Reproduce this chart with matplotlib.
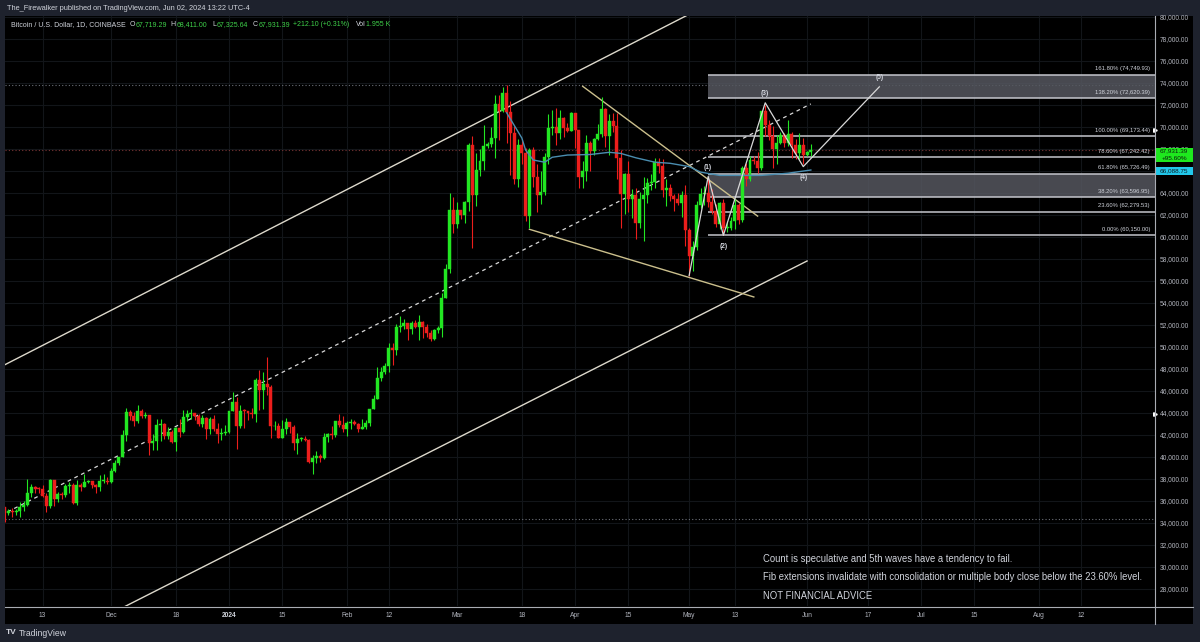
import matplotlib
matplotlib.use('Agg')
import matplotlib.pyplot as plt
import matplotlib.dates as mdates
import matplotlib.transforms as mtransforms
from matplotlib.patches import Rectangle
from matplotlib.lines import Line2D
import numpy as np
import pandas as pd

plt.rcParams['font.family'] = ['Liberation Sans', 'DejaVu Sans']

# ---- daily candles, BTC/USD Coinbase, prices in thousand USD ----
dates = pd.date_range('2023-11-03', '2024-06-02', freq='D')

opens = [
    # Nov
    35.42, 34.94, 35.08, 35.04, 35.05, 35.43, 35.63, 36.70, 37.31, 37.13, 37.07, 36.50, 35.55, 37.88,
    36.18, 36.60, 36.58, 37.38, 37.45, 35.80, 37.42, 37.29, 37.72, 37.79, 37.46, 37.25, 37.83, 37.85,
    # Dec
    37.72, 38.69, 39.46, 39.97, 41.99, 44.08, 43.77, 43.29, 44.17, 43.73, 43.79, 41.24, 41.49, 42.89, 43.04, 41.94,
    42.26, 41.37, 42.66, 42.27, 43.66, 43.87, 43.99, 43.73, 43.01, 43.59, 42.52, 43.44, 42.59, 42.07, 42.14,
    # Jan
    42.28, 44.18, 44.96, 42.84, 44.18, 44.16, 43.97, 43.94, 46.96, 46.12, 46.65, 46.34, 42.78, 42.85, 41.74, 42.51,
    43.14, 42.74, 41.27, 41.62, 41.67, 41.56, 39.53, 39.89, 40.09, 39.95, 41.82, 42.12, 42.03, 43.30, 42.94,
    # Feb
    42.57, 43.09, 43.19, 43.00, 42.58, 42.70, 43.09, 44.34, 45.29, 47.14, 47.77, 48.30, 49.95, 49.72, 51.82,
    51.94, 52.15, 51.68, 52.14, 51.78, 52.28, 51.85, 51.31, 50.74, 51.57, 51.73, 54.49, 57.06, 62.50,
    # Mar
    61.17, 62.43, 62.03, 63.15, 68.32, 63.80, 66.10, 66.92, 68.30, 68.50, 69.00, 72.10, 71.46, 73.08, 71.40, 69.46,
    65.30, 68.40, 67.61, 61.94, 67.89, 65.49, 63.78, 64.05, 67.23, 69.95, 69.99, 69.46, 70.78, 69.89, 69.65,
    # Apr
    71.29, 69.70, 65.46, 65.97, 68.51, 67.84, 68.90, 69.36, 71.62, 69.14, 70.59, 70.06, 67.15, 63.92, 65.73,
    63.44, 63.79, 61.28, 63.47, 63.82, 64.94, 64.96, 66.84, 66.41, 64.28, 64.50, 63.77, 63.46, 63.12, 63.86,
    # May
    60.61, 58.30, 59.10, 62.90, 63.89, 64.03, 63.16, 62.33, 61.19, 63.07, 60.79, 60.82, 61.48, 62.93, 61.56, 66.27,
    65.24, 67.03, 66.93, 66.27, 71.45, 70.14, 69.14, 67.96, 68.53, 69.28, 68.51, 69.39, 68.33, 67.60, 68.35,
    # Jun
    67.49, 67.719,
]
highs = [
    35.42, 35.25, 35.38, 35.30, 35.90, 35.98, 37.97, 37.53, 37.40, 37.23, 37.43, 36.77, 37.98, 37.94,
    36.85, 36.84, 37.52, 37.77, 37.66, 37.88, 37.66, 38.42, 37.90, 37.83, 37.59, 38.40, 38.42, 38.17,
    38.98, 39.70, 40.00, 42.42, 44.49, 44.29, 44.05, 44.71, 44.37, 44.05, 43.82, 42.10, 43.43, 43.42, 43.09, 42.72,
    42.43, 42.75, 43.48, 44.29, 44.23, 44.39, 44.03, 43.94, 43.80, 43.60, 43.68, 43.80, 43.13, 42.60, 42.90,
    44.19, 45.90, 45.50, 44.73, 44.35, 44.22, 44.50, 47.22, 47.89, 47.69, 49.05, 46.52, 43.24, 43.07, 43.38, 43.58,
    43.20, 42.94, 42.19, 41.84, 41.88, 41.64, 40.14, 40.55, 40.28, 42.21, 42.19, 42.84, 43.31, 43.88, 43.74,
    43.27, 43.48, 43.38, 43.12, 43.50, 43.40, 44.37, 45.60, 48.20, 48.17, 48.57, 50.33, 50.37, 52.08, 52.82,
    52.58, 52.18, 52.35, 52.48, 52.95, 52.38, 52.06, 51.57, 51.68, 51.95, 54.90, 57.59, 63.97, 63.68,
    63.15, 62.43, 63.25, 68.59, 69.21, 67.64, 67.99, 70.17, 68.60, 69.99, 72.88, 72.90, 73.65, 73.84, 72.37, 70.05,
    68.87, 68.95, 68.10, 68.10, 68.20, 66.65, 65.98, 67.62, 71.16, 71.54, 71.75, 71.56, 70.90, 70.33, 71.37,
    71.29, 69.70, 66.90, 69.30, 68.72, 69.00, 70.30, 72.75, 71.75, 71.17, 71.30, 71.23, 67.93, 65.84, 66.90,
    64.36, 64.50, 64.10, 65.45, 65.40, 65.70, 67.20, 67.20, 67.08, 65.30, 64.80, 63.90, 64.00, 64.20, 64.70,
    60.85, 59.60, 63.30, 64.50, 64.60, 65.50, 64.40, 62.99, 63.20, 63.46, 61.45, 61.80, 63.45, 63.10, 66.45, 66.70,
    67.40, 67.40, 67.70, 71.50, 71.98, 70.65, 70.10, 69.25, 69.58, 69.50, 70.65, 69.55, 68.90, 69.50, 69.00,
    67.85, 68.411,
]
lows = [
    34.10, 34.73, 34.54, 34.75, 34.52, 35.11, 35.54, 36.33, 36.76, 36.71, 36.35, 34.96, 35.38, 35.56,
    35.89, 36.21, 36.40, 36.70, 35.76, 35.62, 36.90, 37.26, 37.61, 37.16, 36.74, 36.87, 37.61, 37.51,
    37.60, 38.65, 39.30, 39.97, 41.43, 43.36, 42.83, 43.09, 43.58, 43.59, 40.19, 40.66, 40.60, 41.45, 41.66, 41.68,
    41.27, 40.53, 41.83, 42.22, 43.28, 43.42, 43.32, 42.79, 42.73, 41.66, 42.11, 42.33, 41.30, 41.52, 41.98,
    42.19, 44.18, 40.75, 42.64, 42.63, 43.40, 43.57, 43.20, 44.30, 44.33, 45.60, 41.75, 42.44, 41.73, 41.73, 42.08,
    42.20, 40.66, 40.28, 41.44, 41.48, 39.44, 38.50, 39.48, 39.52, 39.83, 41.40, 41.64, 41.82, 42.70, 42.28,
    41.88, 42.59, 42.88, 42.26, 42.53, 42.58, 42.78, 44.33, 45.26, 46.88, 47.57, 47.73, 48.35, 49.28, 51.32,
    51.61, 50.65, 51.21, 51.70, 50.64, 50.81, 50.90, 50.55, 50.61, 51.29, 50.90, 54.45, 56.70, 60.36,
    60.80, 61.60, 61.30, 62.35, 59.01, 62.80, 65.58, 66.12, 68.07, 68.21, 67.14, 68.80, 71.36, 68.56, 65.60, 64.80,
    64.53, 66.60, 61.50, 60.80, 64.57, 62.30, 63.02, 63.80, 66.60, 69.23, 68.40, 68.90, 69.09, 69.55, 69.60,
    68.10, 64.50, 64.50, 65.10, 66.00, 67.45, 68.80, 69.05, 68.21, 67.50, 69.56, 65.25, 60.80, 62.10, 62.30,
    61.70, 59.80, 60.80, 59.60, 63.10, 64.25, 64.50, 65.80, 63.60, 62.80, 63.30, 62.40, 62.90, 61.80, 59.20,
    56.50, 56.90, 58.80, 62.60, 62.90, 62.70, 62.10, 60.90, 60.70, 60.15, 60.50, 60.63, 60.75, 61.15, 61.33, 64.60,
    65.10, 66.65, 65.85, 66.10, 69.20, 68.85, 66.30, 66.60, 68.50, 68.20, 68.25, 67.20, 67.10, 67.10, 66.65,
    67.40, 67.326,
]
closes = [
    34.94, 35.08, 35.04, 35.05, 35.43, 35.63, 36.70, 37.31, 37.13, 37.07, 36.50, 35.55, 37.88, 36.18,
    36.60, 36.58, 37.38, 37.45, 35.80, 37.42, 37.29, 37.72, 37.79, 37.46, 37.25, 37.83, 37.85, 37.72,
    38.69, 39.46, 39.97, 41.99, 44.08, 43.77, 43.29, 44.17, 43.73, 43.79, 41.24, 41.49, 42.89, 43.04, 41.94, 42.26,
    41.37, 42.66, 42.27, 43.66, 43.87, 43.99, 43.73, 43.01, 43.59, 42.52, 43.44, 42.59, 42.07, 42.14, 42.28,
    44.18, 44.96, 42.84, 44.18, 44.16, 43.97, 43.94, 46.96, 46.12, 46.65, 46.34, 42.78, 42.85, 41.74, 42.51, 43.14,
    42.74, 41.27, 41.62, 41.67, 41.56, 39.53, 39.89, 40.09, 39.95, 41.82, 42.12, 42.03, 43.30, 42.94, 42.57,
    43.09, 43.19, 43.00, 42.58, 42.70, 43.09, 44.34, 45.29, 47.14, 47.77, 48.30, 49.95, 49.72, 51.82, 51.94,
    52.15, 51.68, 52.14, 51.78, 52.28, 51.85, 51.31, 50.74, 51.57, 51.73, 54.49, 57.06, 62.50, 61.17,
    62.43, 62.03, 63.15, 68.32, 63.80, 66.10, 66.92, 68.30, 68.50, 69.00, 72.10, 71.46, 73.08, 71.40, 69.46, 65.30,
    68.40, 67.61, 61.94, 67.89, 65.49, 63.78, 64.05, 67.23, 69.95, 69.99, 69.46, 70.78, 69.89, 69.65, 71.29,
    69.70, 65.46, 65.97, 68.51, 67.84, 68.90, 69.36, 71.62, 69.14, 70.59, 70.06, 67.15, 63.92, 65.73, 63.44,
    63.79, 61.28, 63.47, 63.82, 64.94, 64.96, 66.84, 66.41, 64.28, 64.50, 63.77, 63.46, 63.12, 63.86, 60.61,
    58.30, 59.10, 62.90, 63.89, 64.03, 63.16, 62.33, 61.19, 63.07, 60.79, 60.82, 61.48, 62.93, 61.56, 66.27, 65.24,
    67.03, 66.93, 66.27, 71.45, 70.14, 69.14, 67.96, 68.53, 69.28, 68.51, 69.39, 68.33, 67.60, 68.35, 67.49,
    67.72, 67.931,
]

# anchored average line
ma_dates = ['2024-03-14', '2024-03-18', '2024-03-19', '2024-03-21', '2024-03-24', '2024-03-26', '2024-03-30',
            '2024-04-05', '2024-04-10', '2024-04-13', '2024-04-17', '2024-04-22', '2024-04-26', '2024-05-01',
            '2024-05-04', '2024-05-09', '2024-05-15', '2024-05-20', '2024-05-27', '2024-06-02']
ma_vals = [71.3, 69.0, 67.9, 67.0, 66.8, 67.25, 67.45, 67.5, 67.7, 67.6, 67.2, 66.8, 66.7, 66.4,
           65.9, 65.6, 65.6, 65.6, 65.8, 66.09]

# drawings
chan_upper_dates = ['2023-11-02', '2024-05-01']
chan_upper_vals = [48.2, 80.25]
chan_mid_dates = ['2023-11-02', '2024-06-02']
chan_mid_vals = [34.7, 72.1]
chan_lower_dates = ['2023-12-04', '2024-06-01']
chan_lower_vals = [26.3, 57.82]
wedge_top_dates = ['2024-04-03', '2024-05-19']
wedge_top_vals = [73.7, 61.9]
wedge_bot_dates = ['2024-03-20', '2024-05-18']
wedge_bot_vals = [60.7, 54.55]

wave_dates = ['2024-05-01', '2024-05-06', '2024-05-10', '2024-05-21', '2024-05-31', '2024-06-20']
wave_vals = [56.5, 65.5, 60.15, 72.2, 66.4, 73.65]
wave_labels = ['', '(1)', '(2)', '(3)', '(4)', '(5)']
wave_label_side = [0, 1, -1, 1, -1, 1]

fib_start = '2024-05-06'
fib_pcts = [161.8, 138.2, 100.0, 78.6, 61.8, 38.2, 23.6, 0.0]
fib_values = [74749.93, 72620.39, 69173.44, 67242.42, 65726.49, 63596.95, 62279.53, 60150.00]

last_price = 67931.39
ma_last = 66088.75
ath_level = 73.835
low_level = 34.36

xtick_dates = ['2023-11-13', '2023-12-01', '2023-12-18', '2024-01-01', '2024-01-15', '2024-02-01', '2024-02-12',
               '2024-03-01', '2024-03-18', '2024-04-01', '2024-04-15', '2024-05-01', '2024-05-13', '2024-06-01',
               '2024-06-17', '2024-07-01', '2024-07-15', '2024-08-01', '2024-08-12']
xtick_labels = ['13', 'Dec', '18', '2024', '15', 'Feb', '12', 'Mar', '18', 'Apr', '15', 'May', '13', 'Jun',
                '17', 'Jul', '15', 'Aug', '12']

GREEN = '#22e622'
RED = '#ec1e1c'
FRAME = '#1e222d'
TXT = '#d1d4dc'
AXT = '#b2b5be'
LGREEN = '#3fd04a'

assert len(opens) == len(highs) == len(lows) == len(closes) == len(dates)

W, H = 1200, 642
def px(x):
    return x / W
def py(y):
    return 1 - y / H

def dn(lst):
    return mdates.date2num(pd.to_datetime(lst).to_pydatetime())

fig = plt.figure(figsize=(12, 6.42), dpi=100, facecolor=FRAME)
fig.patches.append(Rectangle((px(5), py(624)), px(1188), 608 / H, transform=fig.transFigure,
                             facecolor='black', edgecolor='none', zorder=-10))

ax = fig.add_axes([px(5), py(606), px(1150), 590 / H])
ax.set_facecolor('black')
for s in ax.spines.values():
    s.set_visible(False)

jan1 = mdates.date2num(pd.Timestamp('2024-01-01').to_pydatetime())
ax.set_xlim(jan1 + (5 - 229) / 3.803, jan1 + (1155 - 229) / 3.803)
ax.set_ylim(80 - 589 / 11, 80 + 1 / 11)

# grid / ticks
yt = np.arange(28, 81, 2)
ax.set_yticks(yt)
ax.set_yticklabels([f'{v * 1000:,.2f}' for v in yt])
ax.yaxis.tick_right()
ax.set_xticks(dn(xtick_dates))
ax.set_xticklabels(xtick_labels)
ax.tick_params(axis='y', length=0, pad=3.6, labelsize=4.8, labelcolor=AXT)
ax.tick_params(axis='x', length=0, pad=4.2, labelsize=4.8, labelcolor=AXT)
for lab in ax.get_xticklabels():
    if lab.get_text() == '2024':
        lab.set_fontweight('bold')
        lab.set_color(TXT)
ax.grid(color='#121519', linewidth=0.8, zorder=0)
ax.set_axisbelow(True)

# dotted level lines
ax.axhline(ath_level, color='#6d7079', lw=0.8, ls=(0, (1, 2)), zorder=1)
ax.axhline(low_level, color='#6d7079', lw=0.8, ls=(0, (1, 2)), zorder=1)
ax.axhline(last_price / 1000, color='#7a3434', lw=0.8, ls=(0, (1, 2)), zorder=1)

# fib extension
xf0 = dn([fib_start])[0]
xr = ax.get_xlim()[1]
fv = np.array(fib_values) / 1000
ax.fill_between([xf0, xr], fv[1], fv[0], color='#55575f', alpha=0.85, lw=0, zorder=2)
ax.fill_between([xf0, xr], fv[5], fv[4], color='#55575f', alpha=0.85, lw=0, zorder=2)
ax.hlines(fv, xf0, xr, colors='#c4c6cc', lw=1.1, zorder=3)
bt = mtransforms.blended_transform_factory(ax.transAxes, ax.transData)
for p, v in zip(fib_pcts, fib_values):
    ax.text(1 - 5 / 1150, v / 1000 + 0.55, f'{p:.2f}% ({v:,.2f})', transform=bt, ha='right', va='center',
            fontsize=4.25, color=TXT, zorder=6)

# channel + wedge
ax.plot(dn(chan_upper_dates), chan_upper_vals, color='#ddd9cc', lw=1.0, zorder=3)
ax.plot(dn(chan_lower_dates), chan_lower_vals, color='#ddd9cc', lw=1.0, zorder=3)
ax.plot(dn(chan_mid_dates), chan_mid_vals, color='#d8d8d8', lw=0.9, ls=(0, (3, 3)), zorder=3)
ax.plot(dn(wedge_top_dates), wedge_top_vals, color='#cbbf8c', lw=1.0, zorder=3)
ax.plot(dn(wedge_bot_dates), wedge_bot_vals, color='#cbbf8c', lw=1.0, zorder=3)

# candles
xd = mdates.date2num(dates.to_pydatetime())
o = np.array(opens); h = np.array(highs); l = np.array(lows); c = np.array(closes)
cols = np.where(c >= o, GREEN, RED)
ax.vlines(xd, l, h, colors=cols, lw=0.8, zorder=4)
ax.bar(xd, np.maximum(np.abs(c - o), 0.08), bottom=np.minimum(o, c), width=0.78, color=cols,
       edgecolor=cols, lw=0.3, zorder=5)

# anchored average
ax.plot(dn(ma_dates), ma_vals, color='#4a8db0', lw=1.0, zorder=6)

# wave count
wx = dn(wave_dates)
ax.plot(wx, wave_vals, color='#d9d9d9', lw=0.9, zorder=7)
for xx, yy, lab, side in zip(wx, wave_vals, wave_labels, wave_label_side):
    if lab:
        ax.annotate(lab, (xx, yy), xytext=(0, 6.5 * side if side > 0 else -8), textcoords='offset points',
                    ha='center', va='center', fontsize=4.8, fontweight='bold', color=TXT, zorder=8)

# price scale tags
ft = mtransforms.blended_transform_factory(fig.transFigure, ax.transData)
ax.add_patch(Rectangle((px(1155), 66.85), px(38), 1.27, transform=ft, facecolor='#1ee81e', edgecolor='none',
                       clip_on=False, zorder=9))
ax.text(px(1174), 67.82, f'{last_price:,.2f}', transform=ft, ha='center', va='center', fontsize=4.6,
        color='#0b1a0b', zorder=10)
ax.text(px(1174), 67.18, '+95.60%', transform=ft, ha='center', va='center', fontsize=4.6,
        color='#0b1a0b', zorder=10)
ax.add_patch(Rectangle((px(1155), 65.64), px(38), 0.70, transform=ft, facecolor='#22c7ea', edgecolor='none',
                       clip_on=False, zorder=9))
ax.text(px(1174), 66.0, f'{ma_last:,.2f}', transform=ft, ha='center', va='center', fontsize=4.6,
        color='#0b1a20', zorder=10)
ax.plot([1.0, 1.0], [69.75, 43.9], transform=bt, ls='none', marker='>', ms=2.6, color='white',
        clip_on=False, zorder=9)

# panel separators
fig.add_artist(Line2D([px(5), px(1193)], [py(606.5)] * 2, transform=fig.transFigure, color='#a9acb3', lw=0.8))
fig.add_artist(Line2D([px(1155), px(1155)], [py(16), py(624)], transform=fig.transFigure, color='#a9acb3', lw=0.8))

# header
fig.text(px(7), py(9), 'The_Firewalker published on TradingView.com, Jun 02, 2024 13:22 UTC-4',
         fontsize=5.33, color=TXT, va='center', ha='left')
legend_pieces = ['Bitcoin / U.S. Dollar, 1D, COINBASE', 'O', '67,719.29', 'H', '68,411.00', 'L', '67,325.64',
                 'C', '67,931.39', '+212.10 (+0.31%)', 'Vol', '1.955 K']
legend_colors = [TXT, TXT, LGREEN, TXT, LGREEN, TXT, LGREEN, TXT, LGREEN, LGREEN, TXT, LGREEN]
legend_x = [11, 129.5, 135.5, 170.5, 176.5, 212, 216.5, 253, 258.8, 293, 355.5, 366]
for s, col, xx in zip(legend_pieces, legend_colors, legend_x):
    fig.text(px(xx), py(25), s, fontsize=5.0, color=col, va='center', ha='left')

# notes
notes = ['Count is speculative and 5th waves have a tendency to fail.',
         'Fib extensions invalidate with consolidation or multiple body close below the 23.60% level.',
         'NOT FINANCIAL ADVICE']
for i, s in enumerate(notes):
    fig.text(px(763), py(559 + 18.5 * i), s, fontsize=6.85, color=TXT, va='center', ha='left')

# footer logo
fig.text(px(6), py(633), 'TV', fontsize=6, fontweight='bold', color=TXT, va='center', ha='left')
fig.text(px(19), py(633), 'TradingView', fontsize=6.2, color=TXT, va='center', ha='left')

fig.savefig('out.png', dpi=100, facecolor=FRAME)
